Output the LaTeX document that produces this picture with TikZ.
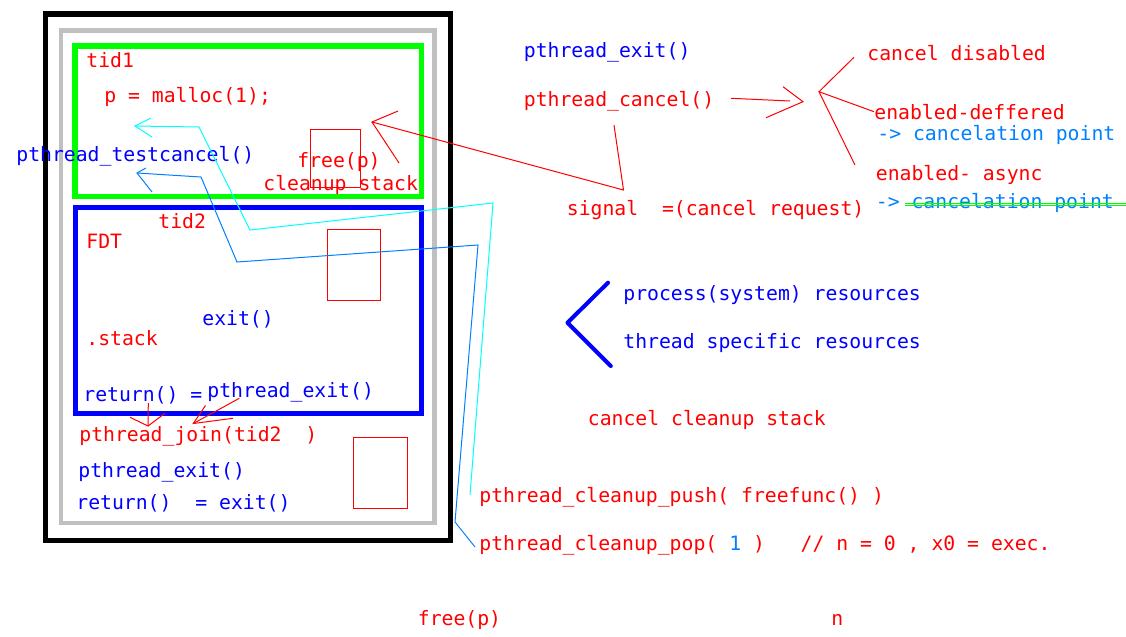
\documentclass[tikz,border=0pt]{standalone}
\usepackage{fontspec}
\newfontfamily\codefont{DejaVu Sans Mono}
\definecolor{pred}{RGB}{255,0,0}
\definecolor{pblue}{RGB}{0,0,255}
\definecolor{pazure}{RGB}{0,128,255}
\definecolor{pcyan}{RGB}{0,255,255}
\definecolor{pgreen}{RGB}{0,255,0}
\definecolor{pgray}{RGB}{192,192,192}

\begin{document}
\begin{tikzpicture}[x=0.02cm,y=-0.02cm,
    every node/.style={font=\codefont\fontsize{11.25}{13}\selectfont, inner sep=0pt, anchor=base west},
    rtxt/.style={text=pred},
    btxt/.style={text=pblue},
    atxt/.style={text=pazure},
    frame/.style={line width=2.85pt},
    redline/.style={draw=pred, line width=0.57pt},
    cyanline/.style={draw=pcyan, line width=0.57pt},
    azline/.style={draw=pazure, line width=0.57pt}]

  \useasboundingbox[fill=white] (0,0) rectangle (1126,636);

  % nested boxes
  \draw[frame, black] (45.5,14) rectangle (450,540.5);
  \draw[pgray, line width=2.5pt] (61,30.5) rectangle (434.5,523);
  \draw[frame, pgreen] (75,46) rectangle (421,196);
  \draw[frame, pblue] (75.5,207.5) rectangle (421,413.5);

  % stack frames
  \draw[redline] (310,129) rectangle (360,187);
  \draw[redline] (327,229) rectangle (380,300);
  \draw[redline] (353,437) rectangle (407,508);

  % inside the process
  \node[rtxt] (t1)         at (86,67)    {tid1};
  \node[rtxt] (malloc)     at (104,102)  {p = malloc(1);};
  \node[btxt] (testcancel) at (16,161)   {pthread\_testcancel()};
  \node[rtxt] (freep)      at (297,167)  {free(p)};
  \node[rtxt] (cleanup)    at (263,190)  {cleanup stack};
  \node[rtxt] (t2)         at (158,228)  {tid2};
  \node[rtxt] (fdt)        at (86,248)   {FDT};
  \node[btxt] (exitin)     at (202,325)  {exit()};
  \node[rtxt] (dotstack)   at (86,345)   {.stack};
  \node[btxt] (retin)      at (83,401.5) {return() =};
  \node[btxt] (pexitin)    at (207,397)  {pthread\_exit()};
  \node[rtxt] (join)       at (79,441)   {pthread\_join(tid2~~)};
  \node[btxt] (pexit)      at (78,477)   {pthread\_exit()};
  \node[btxt] (retexit)    at (76,509)   {return()~~= exit()};

  % right hand notes
  \node[btxt] (rexit)   at (523.5,57.3)  {pthread\_exit()};
  \node[rtxt] (rcancel) at (523.5,106)   {pthread\_cancel()};
  \node[rtxt] (cdis)    at (867,60.7)    {cancel disabled};
  \node[rtxt] (edef)    at (874,119.3)   {enabled-deffered};
  \node[atxt] (cpt1)    at (877,140)     {-> cancelation point};
  \node[rtxt] (easync)  at (875.5,180.7) {enabled- async};
  \node[atxt] (cpt2)    at (875.5,208.3) {-> cancelation point};
  \node[rtxt] (signal)  at (566.5,215)   {signal~~=(cancel request)};
  \node[btxt] (procres) at (623,300)     {process(system) resources};
  \node[btxt] (thrres)  at (623,348.3)   {thread specific resources};
  \node[rtxt] (ccstack) at (587.5,425.7) {cancel cleanup stack};
  \node[rtxt] (push)    at (479,502.7)   {pthread\_cleanup\_push( freefunc() )};
  \node[rtxt] (pop)     at (479,550)     {pthread\_cleanup\_pop( \textcolor{pazure}{1} )~~~// n = 0 , x0 = exec.};
  \node[rtxt] (freep2)  at (417.5,625)   {free(p)};
  \node[rtxt] (nn)      at (831,625)     {n};

  % struck out
  \draw[pgreen, line width=0.57pt] (905,203.3) -- (1126,203.3);
  \draw[pgreen, line width=0.57pt] (905,205.6) -- (1126,205.6);

  % signal to tid1
  \coordinate (sigtip) at (372,122);
  \draw[redline] (614,125) -- (623.5,190) -- (sigtip);
  \draw[redline] (398,111) -- (sigtip) -- (399,163);

  % cancel arrow and the three states
  \draw[redline] (731,98.3) -- (790,101);
  \draw[redline] (783,86.7) -- (803,101.7) -- (766,117.7);
  \coordinate (fork) at (819,91.7);
  \draw[redline] (854,57.3) -- (fork) -- (874,111.7);
  \draw[redline] (fork) -- (855,165);

  % join arrows
  \coordinate (j1) at (148,426);
  \draw[redline] (148.3,403) -- (j1);
  \draw[redline] (130,417.3) -- (j1) -- (165,413.3);
  \coordinate (j2) at (193.3,423.5);
  \draw[redline] (239.3,398.3) -- (j2);
  \draw[redline] (205.5,405.5) -- (j2) -- (233,418.3);

  % push / pop back to tid1
  \coordinate (ctip) at (135,126);
  \draw[cyanline] (470,495) -- (493,203) -- (250,230) -- (199,127) -- (ctip);
  \draw[cyanline] (151,118) -- (ctip) -- (152,137);
  \coordinate (atip) at (137,173);
  \draw[azline] (475,547) -- (455,522) -- (478,245) -- (237,262) -- (201,177) -- (atip);
  \draw[azline] (146,168) -- (atip) -- (152,192);

  % resources bracket
  \draw[pblue, line width=2.3pt, line cap=round, line join=round]
    (608,282.7) -- (567.5,322.7) -- (610.8,366);

\end{tikzpicture}
\end{document}
